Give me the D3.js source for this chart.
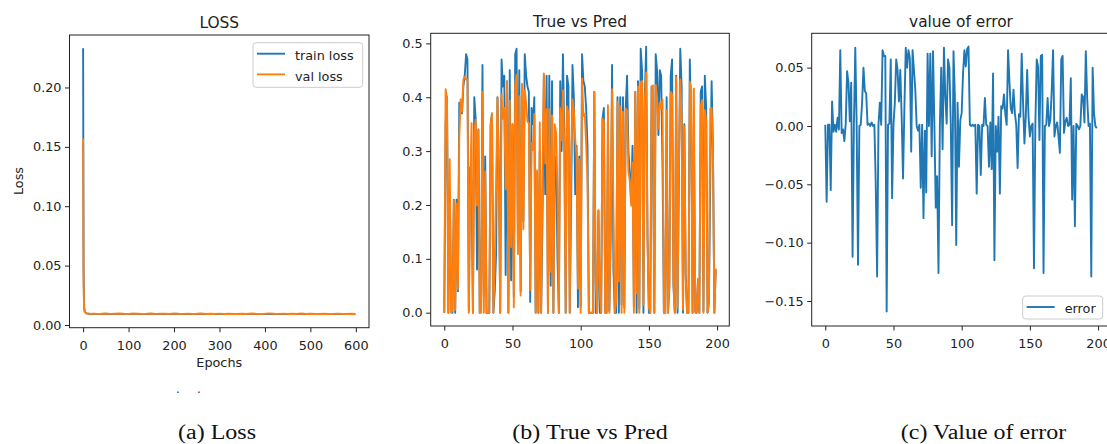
<!DOCTYPE html>
<html><head><meta charset="utf-8">
<script src="https://cdn.jsdelivr.net/npm/d3@7"></script>
<style>body{margin:0;background:#fff}svg{display:block}</style>
</head><body>
<script>
// ---------- DATA ----------
const lossEpochs = [0,1,2,3,4,5,6,7,8,10,12,15,20,25,30,
  40,50,60,70,80,90,100,110,120,130,140,150,160,170,180,190,200,210,220,230,240,250,260,270,280,290,
  300,310,320,330,340,350,360,370,380,390,400,410,420,430,440,450,460,470,480,490,500,510,520,530,540,
  550,560,570,580,590,599];
const trainLoss = [0.233,0.048,0.017,0.0125,0.0112,0.0106,0.0102,0.0100,0.0098,0.0096,0.0095,0.0094,0.0093,0.0093,0.0092,
  0.0092,0.0093,0.0092,0.0092,0.0093,0.0092,0.0092,0.0092,
  0.0093,0.0092,0.0092,0.0092,0.0092,0.0093,0.0092,0.0092,
  0.0092,0.0092,0.0092,0.0093,0.0092,0.0092,0.0092,0.0092,
  0.0092,0.0092,0.0092,0.0093,0.0092,0.0092,0.0092,0.0092,
  0.0092,0.0092,0.0092,0.0092,0.0092,0.0093,0.0092,0.0092,
  0.0092,0.0092,0.0092,0.0092,0.0092,0.0092,0.0092,0.0093,
  0.0092,0.0092,0.0092,0.0092,0.0092,0.0092,0.0092,0.0092,
  0.0091];
const valLoss = [0.157,0.036,0.015,0.0118,0.0109,0.0104,0.0101,0.0099,0.0097,0.0095,0.0094,0.0093,0.0094,0.0095,0.0093,
  0.0094,0.0096,0.0093,0.0095,0.0097,0.0094,0.0093,0.0096,
  0.0095,0.0093,0.0094,0.0097,0.0093,0.0095,0.0094,0.0093,
  0.0096,0.0094,0.0093,0.0095,0.0093,0.0094,0.0096,0.0093,
  0.0094,0.0093,0.0095,0.0093,0.0094,0.0093,0.0093,0.0094,
  0.0093,0.0096,0.0094,0.0093,0.0094,0.0098,0.0094,0.0093,
  0.0095,0.0093,0.0094,0.0093,0.0096,0.0093,0.0094,0.0093,
  0.0093,0.0094,0.0093,0.0093,0.0095,0.0093,0.0093,0.0094,
  0.0093];

const trueVals = [
  0.000,0.350,0.400,0.000,0.230,0.021,0.000,0.210,0.000,0.210,
  0.040,0.390,0.390,0.370,0.420,0.440,0.480,0.470,0.004,0.270,
  0.240,0.000,0.400,0.360,0.080,0.340,0.000,0.020,0.460,0.030,
  0.290,0.000,0.000,0.000,0.350,0.370,0.000,0.040,0.110,0.400,
  0.270,0.000,0.470,0.420,0.440,0.070,0.430,0.000,0.450,0.060,
  0.350,0.030,0.480,0.490,0.130,0.450,0.040,0.380,0.170,0.480,
  0.440,0.420,0.410,0.020,0.380,0.350,0.400,0.000,0.260,0.000,
  0.300,0.000,0.170,0.440,0.220,0.440,0.000,0.440,0.050,0.430,
  0.000,0.280,0.290,0.100,0.000,0.430,0.300,0.480,0.330,0.000,
  0.440,0.420,0.000,0.200,0.460,0.400,0.220,0.310,0.010,0.290,
  0.011,0.480,0.430,0.420,0.380,0.310,0.000,0.000,0.000,0.000,
  0.410,0.000,0.000,0.190,0.000,0.000,0.360,0.380,0.000,0.000,
  0.350,0.003,0.140,0.460,0.080,0.000,0.000,0.400,0.000,0.400,
  0.015,0.400,0.010,0.380,0.440,0.300,0.260,0.210,0.310,0.011,
  0.410,0.000,0.430,0.008,0.490,0.450,0.000,0.400,0.494,0.140,
  0.000,0.000,0.420,0.300,0.000,0.480,0.450,0.330,0.450,0.440,
  0.270,0.000,0.000,0.400,0.000,0.050,0.440,0.470,0.050,0.000,
  0.440,0.000,0.250,0.490,0.420,0.000,0.350,0.070,0.000,0.000,
  0.470,0.350,0.000,0.330,0.002,0.000,0.060,0.000,0.410,0.420,
  0.003,0.440,0.380,0.000,0.020,0.250,0.430,0.300,0.000,0.080];

const predVals = [
  0.000,0.415,0.399,0.000,0.285,0.000,0.005,0.209,0.005,0.203,
  0.043,0.325,0.396,0.373,0.433,0.438,0.433,0.433,0.000,0.233,
  0.352,0.000,0.333,0.358,0.199,0.340,0.000,0.000,0.410,0.000,
  0.262,0.000,0.000,0.000,0.347,0.370,0.000,0.090,0.239,0.399,
  0.250,0.000,0.405,0.360,0.380,0.229,0.429,0.000,0.393,0.122,
  0.349,0.010,0.423,0.442,0.109,0.402,0.032,0.425,0.155,0.413,
  0.390,0.355,0.352,0.042,0.315,0.302,0.369,0.000,0.264,0.000,
  0.353,0.000,0.249,0.444,0.277,0.378,0.000,0.378,0.076,0.366,
  0.000,0.350,0.333,0.226,0.000,0.380,0.320,0.413,0.305,0.000,
  0.383,0.370,0.000,0.285,0.396,0.375,0.322,0.290,0.045,0.285,
  0.000,0.435,0.365,0.369,0.314,0.242,0.000,0.000,0.000,0.000,
  0.409,0.058,0.000,0.190,0.042,0.000,0.360,0.356,0.000,0.000,
  0.385,0.000,0.177,0.415,0.195,0.000,0.022,0.392,0.058,0.383,
  0.000,0.373,0.000,0.379,0.375,0.262,0.245,0.199,0.279,0.000,
  0.409,0.036,0.420,0.000,0.428,0.430,0.015,0.392,0.446,0.132,
  0.009,0.000,0.418,0.422,0.000,0.423,0.399,0.342,0.390,0.379,
  0.396,0.000,0.000,0.376,0.000,0.045,0.410,0.405,0.059,0.000,
  0.437,0.009,0.273,0.433,0.360,0.006,0.346,0.063,0.000,0.000,
  0.429,0.413,0.000,0.416,0.000,0.000,0.063,0.000,0.383,0.395,
  0.000,0.376,0.356,0.000,0.018,0.379,0.380,0.289,0.000,0.082];

const errVals = [
  0.001,-0.065,0.001,0.001,-0.055,0.021,-0.005,0.001,-0.005,0.007,
  -0.003,0.065,-0.006,-0.003,-0.013,0.002,0.047,0.037,0.004,0.037,
  -0.112,0.001,0.067,0.002,-0.119,0.000,0.001,0.020,0.050,0.030,
  0.028,0.001,0.002,0.000,0.003,0.000,0.001,-0.050,-0.129,0.001,
  0.020,0.001,0.065,0.060,0.060,-0.159,0.001,0.002,0.057,-0.062,
  0.001,0.020,0.057,0.048,0.021,0.048,0.008,-0.045,0.015,0.067,
  0.050,0.065,0.058,-0.022,0.065,0.048,0.031,0.000,-0.004,0.001,
  -0.053,0.001,-0.079,-0.004,-0.057,0.062,0.000,0.062,-0.026,0.064,
  0.000,-0.070,-0.043,-0.126,0.000,0.050,-0.020,0.067,0.025,0.002,
  0.057,0.050,0.002,-0.085,0.064,0.025,-0.102,0.020,-0.035,0.005,
  0.011,0.045,0.065,0.051,0.066,0.068,0.001,0.000,0.001,0.000,
  0.001,-0.058,0.001,0.000,-0.042,0.001,0.000,0.024,0.001,0.000,
  -0.035,0.003,-0.037,0.045,-0.115,0.000,-0.022,0.008,-0.058,0.017,
  0.015,0.027,0.010,0.001,0.065,0.038,0.015,0.011,0.031,0.011,
  0.001,-0.036,0.010,0.008,0.062,0.020,-0.015,0.008,0.048,0.008,
  -0.009,0.000,0.002,-0.122,0.000,0.057,0.051,-0.012,0.060,0.061,
  -0.126,0.000,0.001,0.024,0.000,0.005,0.030,0.065,-0.009,0.000,
  0.003,-0.009,-0.023,0.057,0.060,-0.006,0.004,0.007,0.000,0.001,
  0.041,-0.063,0.000,-0.086,0.002,0.000,-0.003,0.000,0.027,0.025,
  0.003,0.064,0.024,0.000,0.002,-0.129,0.050,0.011,0.000,-0.002];

const lossXTicks = [0,100,200,300,400,500,600];
const lossYTicks = [0,0.05,0.10,0.15,0.20];
const idxXTicks = [0,50,100,150,200];
const predYTicks = [0,0.1,0.2,0.3,0.4,0.5];
const errYTicks = [-0.15,-0.10,-0.05,0,0.05];
const titles = ["LOSS","True vs Pred","value of error"];
const captions = ["(a) Loss","(b) True vs Pred","(c) Value of error"];

// ---------- DRAW ----------
const BLUE = "#1f77b4", ORANGE = "#ff7f0e", INK = "#222";
const FONT = "DejaVu Sans, sans-serif";
const svg = d3.select("body").append("svg").attr("width",1107).attr("height",444)
  .style("background","#fff");

function panel(cfg){
  const x = d3.scaleLinear().domain(cfg.xDomain).range([cfg.left,cfg.right]);
  const y = d3.scaleLinear().domain(cfg.yDomain).range([cfg.bottom,cfg.top]);
  const g = svg.append("g");
  const cid = "clip"+cfg.id;
  svg.append("clipPath").attr("id",cid).append("rect")
    .attr("x",cfg.left).attr("y",cfg.top).attr("width",cfg.right-cfg.left).attr("height",cfg.bottom-cfg.top);
  const lines = g.append("g").attr("clip-path",`url(#${cid})`);
  cfg.series.forEach(s=>{
    lines.append("path").datum(s.values)
      .attr("fill","none").attr("stroke",s.color).attr("stroke-width",1.9)
      .attr("stroke-linejoin","round")
      .attr("d", d3.line().x((d,i)=>x(s.xs ? s.xs[i] : i)).y(d=>y(d)));
  });
  g.append("rect").attr("x",cfg.left).attr("y",cfg.top)
    .attr("width",cfg.right-cfg.left).attr("height",cfg.bottom-cfg.top)
    .attr("fill","none").attr("stroke",INK).attr("stroke-width",1);
  const xa = g.append("g").attr("transform",`translate(0,${cfg.bottom})`)
    .call(d3.axisBottom(x).tickValues(cfg.xTicks).tickSize(4.5).tickFormat(d3.format("d")));
  xa.selectAll("text").attr("y",13);
  const ya = g.append("g").attr("transform",`translate(${cfg.left},0)`)
    .call(d3.axisLeft(y).tickValues(cfg.yTicks).tickSize(4.5).tickPadding(3.5).tickFormat(d3.format(cfg.yFmt)));
  [xa,ya].forEach(a=>{
    a.select(".domain").remove();
    a.attr("color",INK).attr("font-family",FONT).attr("font-size",12.8);
    a.selectAll("text").attr("fill",INK);
  });
  g.append("text").attr("x",(cfg.left+cfg.right)/2).attr("y",cfg.titleY)
    .attr("text-anchor","middle").attr("font-family",FONT).attr("font-size",15.4)
    .attr("fill",INK).text(cfg.title);
  if(cfg.legend){
    const L = cfg.legend;
    const lg = g.append("g");
    lg.append("rect").attr("x",L.x).attr("y",L.y).attr("width",L.w).attr("height",L.h)
      .attr("rx",3).attr("fill","#fff").attr("fill-opacity",0.8).attr("stroke","#cccccc").attr("stroke-width",1);
    L.items.forEach((it,i)=>{
      const ly = L.y + 11 + i*20.7;
      lg.append("line").attr("x1",L.x+4).attr("x2",L.x+32).attr("y1",ly).attr("y2",ly)
        .attr("stroke",it.color).attr("stroke-width",1.9);
      lg.append("text").attr("x",L.x+42).attr("y",ly+6.2).attr("font-family",FONT)
        .attr("font-size",12.8).attr("fill",INK).text(it.label);
    });
  }
  return {x,y,g};
}

// Panel (a)
const p1 = panel({id:1, left:69.5, right:369, top:35, bottom:327.7,
  xDomain:[-29.95,628.95], yDomain:[-0.0023,0.2442],
  xTicks:lossXTicks, yTicks:lossYTicks, yFmt:".2f", title:titles[0], titleY:28.3,
  series:[{values:trainLoss, xs:lossEpochs, color:BLUE},{values:valLoss, xs:lossEpochs, color:ORANGE}],
  legend:{x:253,y:42.7,w:109.7,h:44.6,items:[{label:"train loss",color:BLUE},{label:"val loss",color:ORANGE}]}});
p1.g.append("text").attr("x",(69.5+369)/2).attr("y",367).attr("text-anchor","middle")
  .attr("font-family",FONT).attr("font-size",12.8).attr("fill",INK).text("Epochs");
p1.g.append("text").attr("transform","translate(22.5,181) rotate(-90)").attr("text-anchor","middle")
  .attr("font-family",FONT).attr("font-size",12.8).attr("fill",INK).text("Loss");
[176,197].forEach(dx=>{
  p1.g.append("text").attr("x",dx).attr("y",397).attr("font-family",FONT).attr("font-size",12)
    .attr("fill","#333").text("·");
});

// Panel (b)
panel({id:2, left:430.7, right:729.3, top:33.3, bottom:326,
  xDomain:[-9.95,208.95], yDomain:[-0.0247,0.5187],
  xTicks:idxXTicks, yTicks:predYTicks, yFmt:".1f", title:titles[1], titleY:26.7,
  series:[{values:trueVals, color:BLUE},{values:predVals, color:ORANGE}]});

// Panel (c)
panel({id:3, left:811.7, right:1110.3, top:33.3, bottom:326,
  xDomain:[-9.95,208.95], yDomain:[-0.1714,0.0794],
  xTicks:idxXTicks, yTicks:errYTicks, yFmt:".2f", title:titles[2], titleY:26.7,
  series:[{values:errVals, color:BLUE}],
  legend:{x:1022.7,y:296,w:80,h:23,items:[{label:"error",color:BLUE}]}});

// Captions
const capX = [217, 590, 983.5];
captions.forEach((c,i)=>{
  svg.append("text").attr("transform",`translate(${capX[i]},439) scale(1,0.9)`)
    .attr("text-anchor","middle").attr("font-family","Liberation Serif, Times New Roman, serif")
    .attr("font-size",24).attr("fill","#111").text(c);
});
</script>
</body></html>
